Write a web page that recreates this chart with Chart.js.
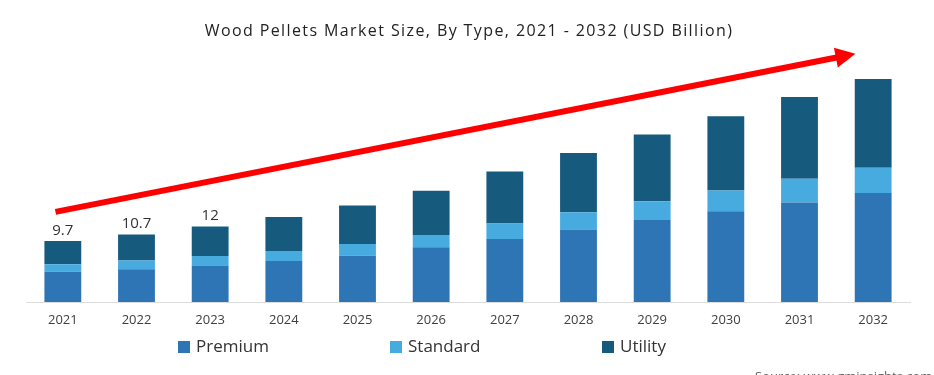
<!DOCTYPE html>
<html>
<head>
<meta charset="utf-8">
<script src="https://cdn.jsdelivr.net/npm/chart.js@4.4.1/dist/chart.umd.min.js"></script>
<style>
  html, body { margin: 0; padding: 0; background: #ffffff; }
  #wrap { width: 934px; height: 375px; position: relative; }
</style>
</head>
<body>
<div id="wrap"><canvas id="c" width="934" height="375"></canvas></div>
<script>
const years = ['2021','2022','2023','2024','2025','2026','2027','2028','2029','2030','2031','2032'];
const premium  = [4.8, 5.2, 5.8, 6.5, 7.35, 8.7, 10.0, 11.5, 13.0, 14.4, 15.8, 17.3];
const standard = [1.2, 1.4, 1.5, 1.6, 1.85, 1.95, 2.45, 2.75, 3.0, 3.3, 3.75, 4.0];
const utility  = [3.7, 4.1, 4.7, 5.4, 6.1, 7.0, 8.25, 9.4, 10.6, 11.8, 13.0, 14.1];
const totalLabels = ['9.7', '10.7', '12'];
const seriesNames = ['Premium', 'Standard', 'Utility'];
const seriesColors = ['#2E75B6', '#47ABE0', '#165A7E'];
const titleText = 'Wood Pellets Market Size, By Type, 2021 - 2032 (USD Billion)';
const sourceText = 'Source: www.gminsights.com';

const FONT = '"Open Sans", "Noto Sans", sans-serif';

const totalsPlugin = {
  id: 'totals',
  afterDatasetsDraw(chart) {
    const ctx = chart.ctx;
    const top = chart.getDatasetMeta(chart.data.datasets.length - 1);
    ctx.save();
    ctx.font = '15px ' + FONT;
    ctx.fillStyle = '#333333';
    ctx.textAlign = 'center';
    ctx.textBaseline = 'bottom';
    totalLabels.forEach((t, i) => {
      const el = top.data[i];
      ctx.fillText(t, el.x, el.y - 3);
    });
    ctx.restore();
  }
};

const arrowPlugin = {
  id: 'arrow',
  afterDatasetsDraw(chart, args, opts) {
    const xs = chart.scales.x, ys = chart.scales.y;
    const ctx = chart.ctx;
    const toPx = p => {
      const x0 = xs.getPixelForValue(0), x1 = xs.getPixelForValue(1);
      return { x: x0 + (x1 - x0) * p.x, y: ys.getPixelForValue(p.y) };
    };
    const a = toPx(opts.from), b = toPx(opts.to);
    const ang = Math.atan2(b.y - a.y, b.x - a.x);
    const headLen = 20, headW = 10;
    const bx = b.x - headLen * Math.cos(ang), by = b.y - headLen * Math.sin(ang);
    ctx.save();
    ctx.strokeStyle = '#FF0000';
    ctx.fillStyle = '#FF0000';
    ctx.lineWidth = 6;
    ctx.beginPath();
    ctx.moveTo(a.x, a.y);
    ctx.lineTo(bx + 2 * Math.cos(ang), by + 2 * Math.sin(ang));
    ctx.stroke();
    ctx.beginPath();
    ctx.moveTo(b.x, b.y);
    ctx.lineTo(bx + headW * Math.sin(ang), by - headW * Math.cos(ang));
    ctx.lineTo(bx - headW * Math.sin(ang), by + headW * Math.cos(ang));
    ctx.closePath();
    ctx.fill();
    ctx.restore();
  }
};

const textPlugin = {
  id: 'texts',
  afterDraw(chart, args, opts) {
    const ctx = chart.ctx;
    ctx.save();
    // title
    ctx.font = '16px ' + FONT;
    ctx.fillStyle = '#222222';
    ctx.textAlign = 'center';
    ctx.textBaseline = 'alphabetic';
    if ('letterSpacing' in ctx) ctx.letterSpacing = '1.4px';
    ctx.fillText(titleText, opts.titleX, opts.titleY);
    if ('letterSpacing' in ctx) ctx.letterSpacing = '0px';
    // legend
    ctx.font = '17px ' + FONT;
    ctx.textBaseline = 'middle';
    ctx.textAlign = 'left';
    chart.data.datasets.forEach((ds, i) => {
      const x = opts.startX + i * opts.step;
      ctx.fillStyle = ds.backgroundColor;
      ctx.fillRect(x, opts.y - 6, 12, 12);
      ctx.fillStyle = '#333333';
      ctx.fillText(ds.label, x + 18, opts.y);
    });
    // source
    ctx.font = '13px ' + FONT;
    ctx.fillStyle = '#666666';
    ctx.fillText(sourceText, opts.sourceX, opts.sourceY);
    ctx.restore();
  }
};

new Chart(document.getElementById('c'), {
  type: 'bar',
  data: {
    labels: years,
    datasets: [
      { label: seriesNames[0], data: premium,  backgroundColor: seriesColors[0] },
      { label: seriesNames[1], data: standard, backgroundColor: seriesColors[1] },
      { label: seriesNames[2], data: utility,  backgroundColor: seriesColors[2] }
    ]
  },
  options: {
    responsive: false,
    animation: false,
    devicePixelRatio: 1,
    layout: { padding: { left: 26, right: 24, top: 50, bottom: 0 } },
    datasets: { bar: { categoryPercentage: 1.0, barPercentage: 0.5 } },
    scales: {
      x: {
        stacked: true,
        grid: { display: false, drawTicks: false },
        border: { display: true, color: '#dddddd', width: 1 },
        ticks: { font: { family: FONT, size: 13 }, color: '#404040', padding: 10 },
        afterFit: s => { s.height = 73; }
      },
      y: {
        stacked: true,
        display: false,
        min: 0,
        max: 40
      }
    },
    plugins: {
      legend: { display: false },
      tooltip: { enabled: false },
      title: { display: false },
      arrow: { from: { x: -0.1, y: 14.3 }, to: { x: 10.76, y: 39.4 } },
      texts: { titleX: 469, titleY: 36, startX: 178, step: 212, y: 347, sourceX: 755, sourceY: 377 }
    }
  },
  plugins: [totalsPlugin, arrowPlugin, textPlugin]
});
</script>
</body>
</html>
